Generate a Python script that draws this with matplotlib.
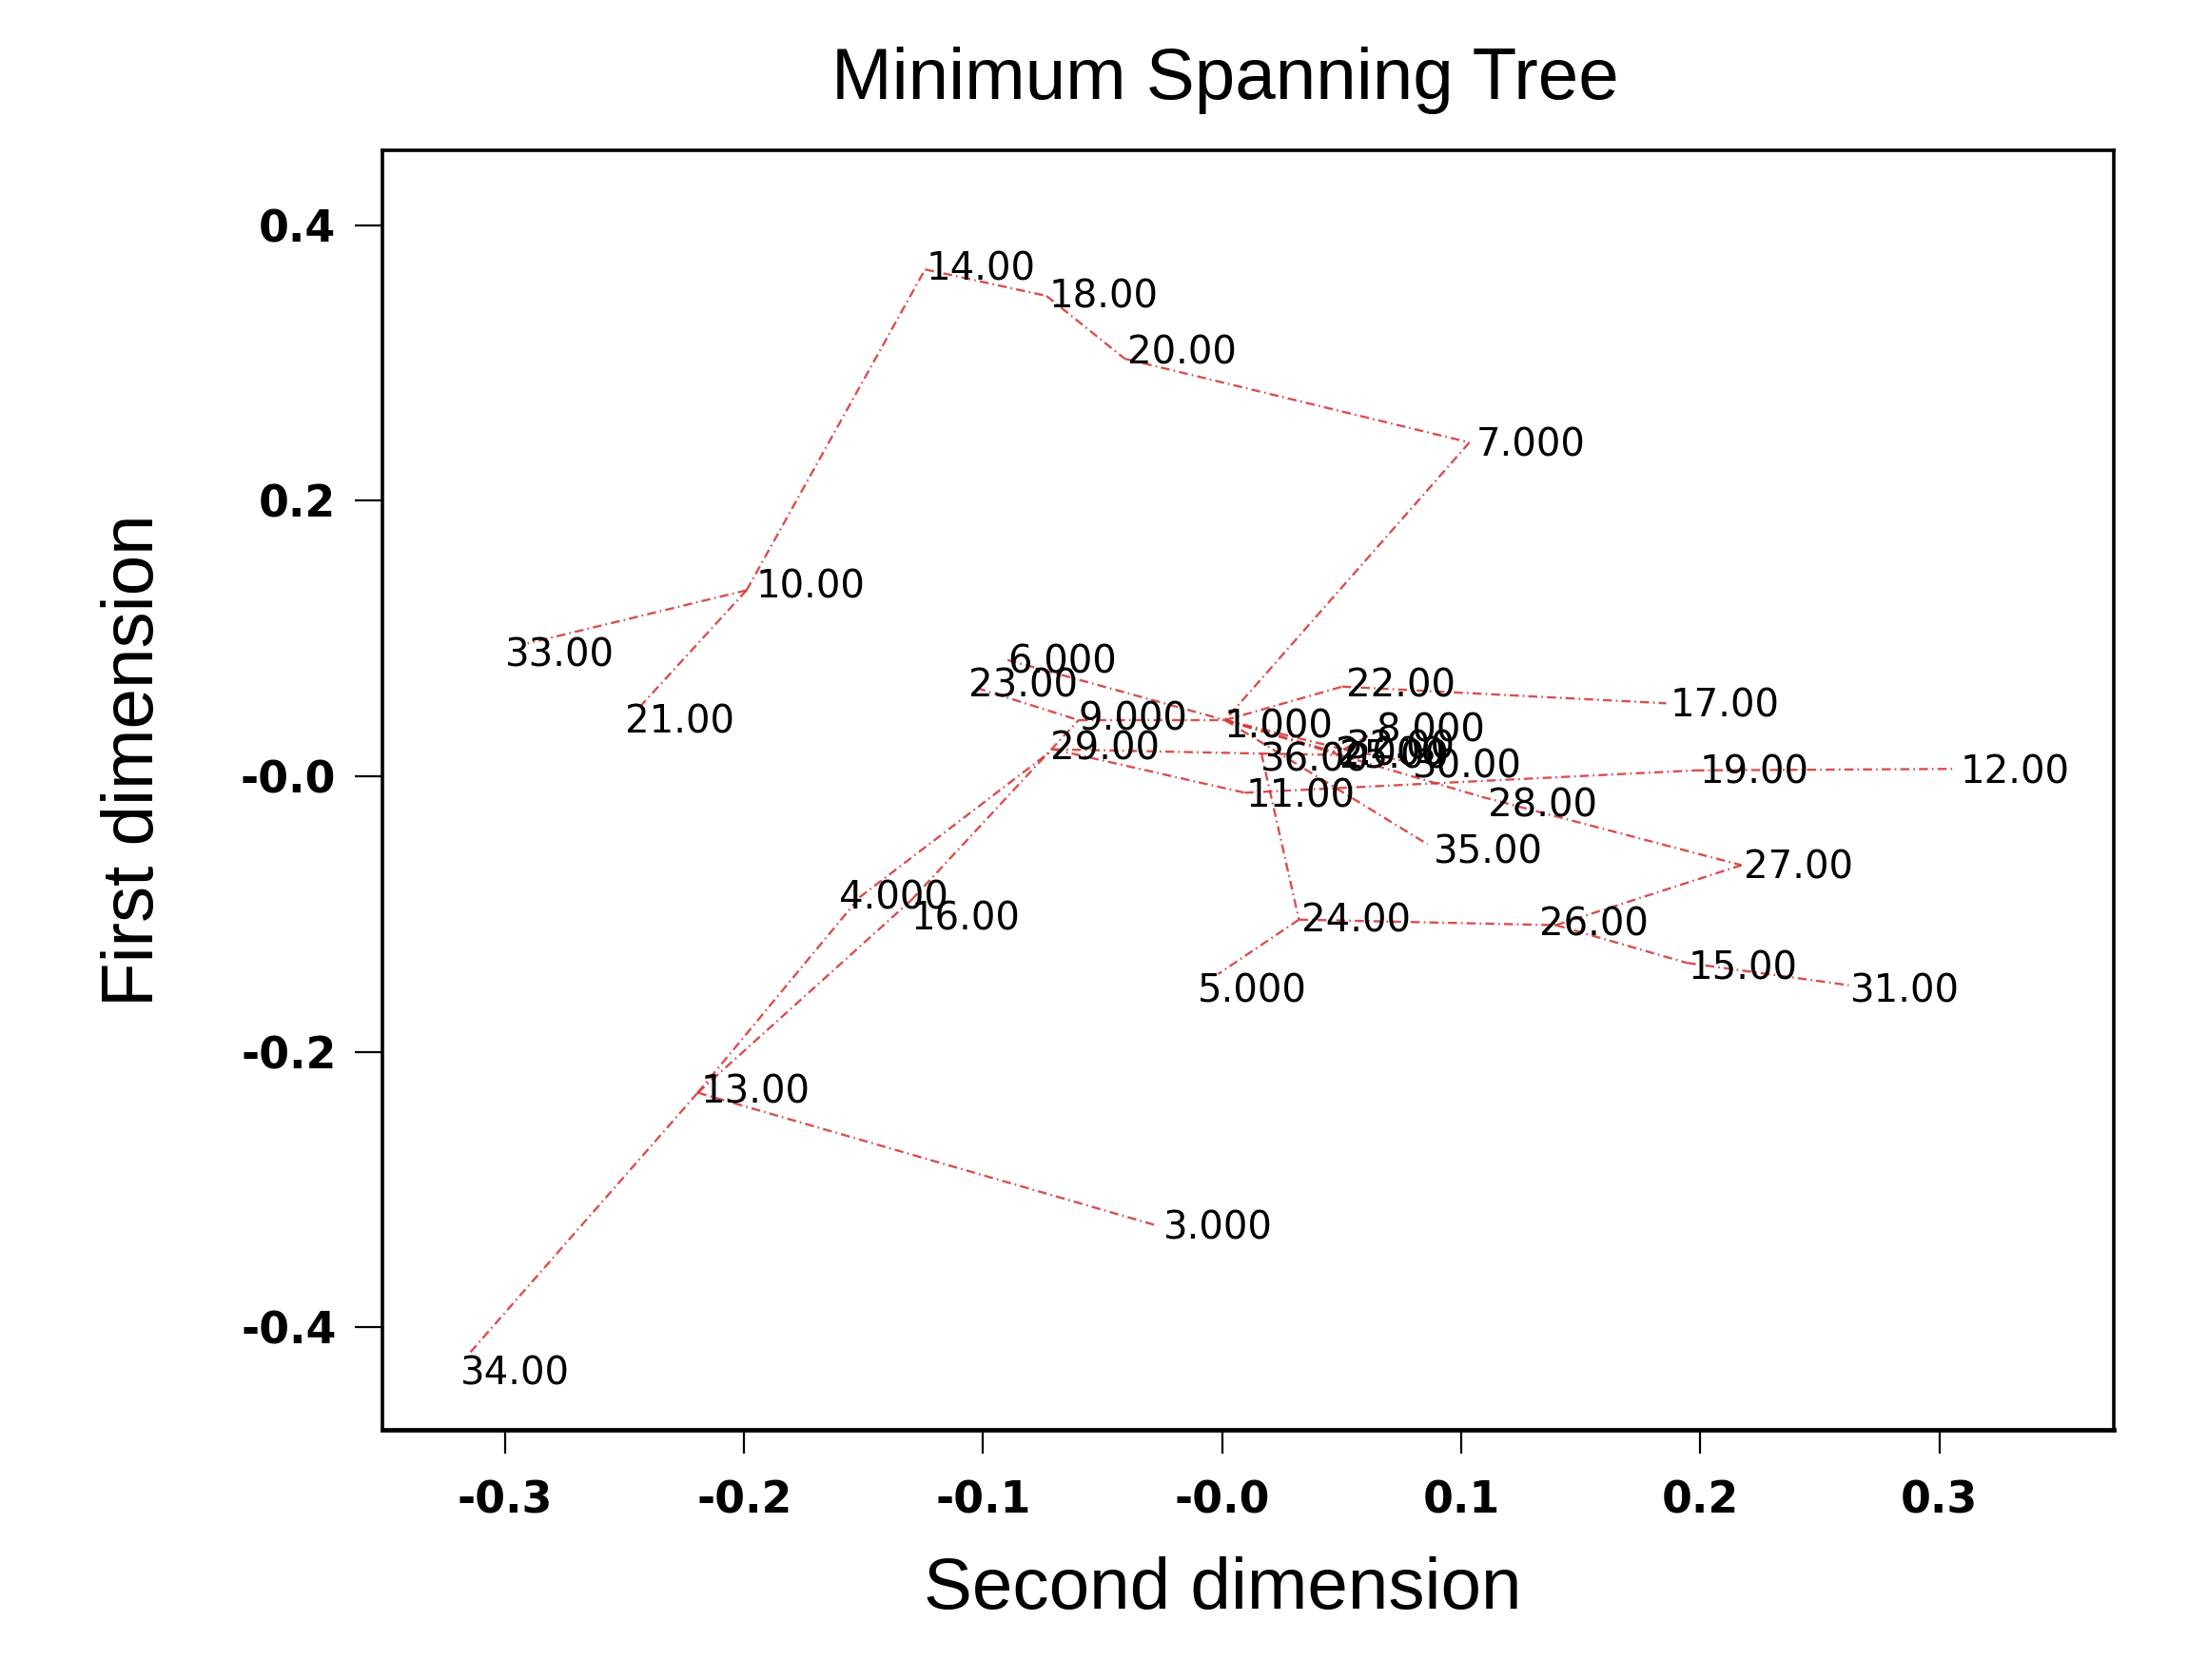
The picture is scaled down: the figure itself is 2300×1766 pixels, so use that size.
import matplotlib
matplotlib.use("Agg")
import matplotlib.pyplot as plt

# ---------------- data ----------------
node_ids = list(range(1, 37))
second_dim = [0.0012, 0.0473, -0.0268, -0.1517, -0.0017, -0.0898, 0.1034, 0.0625,
              -0.0601, -0.1990, 0.0094, 0.3071, -0.2194, -0.1243, 0.1944, -0.1301,
              0.1857, -0.0735, 0.1979, -0.0408, -0.2439, 0.0502, -0.1027, 0.0321,
              0.0491, 0.1396, 0.2172, 0.1086, -0.0706, 0.0783, 0.2621, 0.0508,
              -0.2906, -0.3145, 0.0859, 0.0164]
first_dim = [0.0408, 0.0175, -0.3263, -0.0878, -0.1435, 0.0844, 0.2423, 0.0307,
             0.0408, 0.1350, -0.0119, 0.0054, -0.2296, 0.3679, -0.1354, -0.0899,
             0.0530, 0.3487, 0.0043, 0.3031, 0.0499, 0.0651, 0.0641, -0.1040,
             0.0155, -0.1080, -0.0645, -0.0149, 0.0196, 0.0104, -0.1516, 0.0196,
             0.0965, -0.4179, -0.0493, 0.0165]
edges = [(10, 14), (14, 18), (18, 20), (20, 7), (7, 1), (10, 33), (10, 21),
         (6, 1), (23, 9), (9, 1), (13, 4), (13, 16), (4, 29), (16, 9), (34, 13),
         (13, 3), (29, 36), (29, 11), (36, 24), (24, 5), (24, 26), (26, 27),
         (26, 15), (15, 31), (1, 22), (22, 17), (11, 19), (19, 12), (1, 35),
         (1, 2), (1, 25), (1, 32), (32, 8), (32, 30), (25, 28), (28, 27), (36, 25)]
xtick_values = [-0.3, -0.2, -0.1, 0.0, 0.1, 0.2, 0.3]
xtick_labels = ["-0.3", "-0.2", "-0.1", "-0.0", "0.1", "0.2", "0.3"]
ytick_values = [-0.4, -0.2, 0.0, 0.2, 0.4]
ytick_labels = ["-0.4", "-0.2", "-0.0", "0.2", "0.4"]
title = "Minimum Spanning Tree"
xlabel = "Second dimension"
ylabel = "First dimension"

# label placement relative to node (layout, in points; +y is up)
label_dx = [-1, 0, 4, -15, -15, 0, 5, 3, 0, 7, 1, 3, 2, 1, 1, 0, 3, 2, 3, 2,
            -10, 3, -6, 2, 0, -12, 2, 4, -2, 2, 1, 2, -16, -7, 4, -1]
label_dy = [2, -1, -1, -2, 10, -1, -1, -5, -3, -5, 0, 0, -3, -3, 1, 11, -1, -2, -1, -7,
            8, -3, -4, -2, -1, -3, -1, 4, -3, 1, 2, -4, 6, 13, 3, 2]


def fmt(n):
    return f"{n:.3f}" if n < 10 else f"{n:.2f}"


# ---------------- figure ----------------
fig = plt.figure(figsize=(23, 17.66), dpi=100)
fig.patch.set_facecolor("white")
ax = fig.add_axes([0.1748, 0.1489, 0.9661 - 0.1748, 0.9105 - 0.1489])

pos = {n: (second_dim[i], first_dim[i]) for i, n in enumerate(node_ids)}
for a, b in edges:
    (x0, y0), (x1, y1) = pos[a], pos[b]
    ax.plot([x0, x1], [y0, y1], color="#d83a3a", lw=1.7,
            linestyle=(0, (4.0, 1.8, 0.7, 1.8)), zorder=1, alpha=0.9)

k = 1.056
shift_down = 3
for i, n in enumerate(node_ids):
    ax.annotate(fmt(n), (second_dim[i], first_dim[i]),
                xytext=(label_dx[i] * k, -(label_dy[i] + shift_down) * k),
                textcoords="offset points",
                ha="left", va="center", fontsize=29, family="DejaVu Sans",
                color="black", zorder=3)

ax.set_xlim(-0.3513, 0.373)
ax.set_ylim(-0.4743, 0.4543)
ax.set_xticks(xtick_values)
ax.set_xticklabels(xtick_labels, fontsize=33, family="DejaVu Sans", fontweight="bold")
ax.set_yticks(ytick_values)
ax.set_yticklabels(ytick_labels, fontsize=33, family="DejaVu Sans", fontweight="bold")
ax.tick_params(axis="x", direction="out", length=18, width=1.6, pad=20)
ax.tick_params(axis="y", direction="out", length=21, width=1.6, pad=14)
for s in ax.spines.values():
    s.set_linewidth(2.6)
    s.set_color("black")
ax.spines["bottom"].set_linewidth(3.4)

fig.text(1288 / 2300, 1 - 84 / 1766, title, ha="center", va="center",
         fontsize=55, family="Liberation Sans")
fig.text(1285 / 2300, 1 - 1672 / 1766, xlabel, ha="center", va="center",
         fontsize=55, family="Liberation Sans")
fig.text(142 / 2300, 1 - 799 / 1766, ylabel, ha="center", va="center",
         fontsize=55, family="Liberation Sans", rotation=90)

fig.savefig("out.png", dpi=100, facecolor="white")
